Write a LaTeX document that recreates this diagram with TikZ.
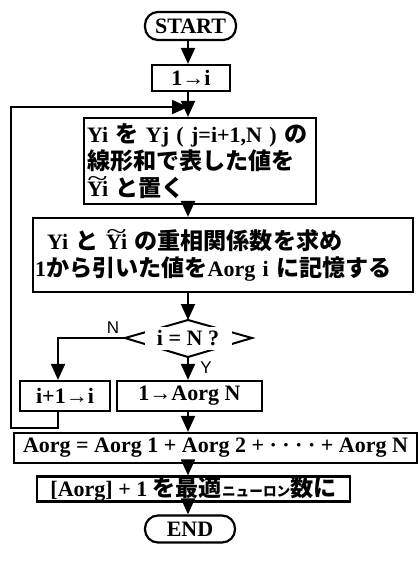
\documentclass[tikz,border=0pt]{standalone}
\usepackage{fontspec}
\setmainfont{Liberation Serif}
\newfontfamily\jpf{Noto Sans CJK JP}[Scale=1.05]
\newfontfamily\labf{Liberation Sans}
\usetikzlibrary{arrows.meta,calc}
\newcommand\J[1]{{\jpf\bfseries #1}}
\newcommand\Yt{\ooalign{Yi\cr\hidewidth\raisebox{0.45em}{\scalebox{1.7}[1.1]{\mdseries\char`\~}}\hidewidth\cr}}
\begin{document}
\begin{tikzpicture}[x=1pt,y=-1pt,
  box/.style={draw, line width=2.2pt, inner sep=0pt, font=\fontsize{22}{27}\selectfont\bfseries},
  term/.style={box, rounded corners=13pt},
  arr/.style={line width=2pt, -{Triangle[length=16pt,width=14pt]}},
  ln/.style={line width=2pt},
  lab/.style={font=\labf\fontsize{17}{17}\selectfont, inner sep=0pt}]
\useasboundingbox (0,0) rectangle (419,574);

\node[term, minimum width=91, minimum height=28] (start) at (190.5,26) {START};
\node[box, minimum width=78, minimum height=26] (init) at (191,78) {1→i};
\node[box, minimum height=86, text width=226, inner xsep=3pt, align=left] (lin) at (200,161)
  {Yi \J{を} Yj ( j=i+1,N ) \J{の}\\ \J{線形和で表した値を}\\ \Yt\ \J{と置く}};
\node[box, minimum height=74, text width=376, inner xsep=2pt, align=left] (corr) at (223,255)
  {\hspace{12pt}Yi \J{と} \Yt\ \J{の重相関係数を求め}\\1\J{から引いた値を}Aorg i \J{に記憶する}};

\coordinate (dT) at (188,320);
\coordinate (dL) at (125,338);
\coordinate (dR) at (252,338);
\coordinate (dB) at (188,357);
\draw[ln] (dL) -- (dT) -- (dR) -- (dB) -- cycle;
\node[fill=white, inner sep=0pt, minimum width=87, minimum height=23, font=\fontsize{22}{27}\selectfont\bfseries] (dec) at (188,338) {i = N ?};
\node[lab] (lN) at (113,328) {N};
\node[lab] (lY) at (206,368) {Y};

\node[box, minimum width=90, minimum height=30] (inc) at (65,396) {i+1→i};
\node[box, minimum width=145, minimum height=30] (setN) at (189.5,396) {1→Aorg N};
\node[box, minimum width=403, minimum height=30] (sum) at (215.5,448) {Aorg = Aorg 1 + Aorg 2 + · · · · + Aorg N};
\node[box, minimum width=313, minimum height=25] (res) at (193.5,489) {[Aorg] + 1 \J{を最適}{\fontsize{13}{13}\selectfont\J{ニューロン}}\J{数に}};
\node[term, minimum width=90, minimum height=27] (end) at (190,529) {END};

\coordinate (ax) at (188,0);
\coordinate (merge) at (188,107);
\coordinate (lb) at (11,428);

\draw[arr] (start.south -| ax) -- (init.north -| ax);
\draw[ln] (init.south -| ax) -- (merge);
\draw[arr] (merge) -- (lin.north -| ax);
\draw[arr] ([xshift=-7pt]inc.south) |- (lb) |- (merge);
\draw[arr] (lin.south -| ax) -- (corr.north -| ax);
\draw[arr] (corr.south -| ax) -- (dT);
\draw[arr] (dB) -- (setN.north -| ax);
\draw[arr] (dL) -| ([xshift=-7pt]inc.north);
\draw[arr] (setN.south -| ax) -- (sum.north -| ax);
\draw[arr] (sum.south -| ax) -- (res.north -| ax);
\draw[arr] (res.south -| ax) -- (end.north -| ax);
\end{tikzpicture}
\end{document}
